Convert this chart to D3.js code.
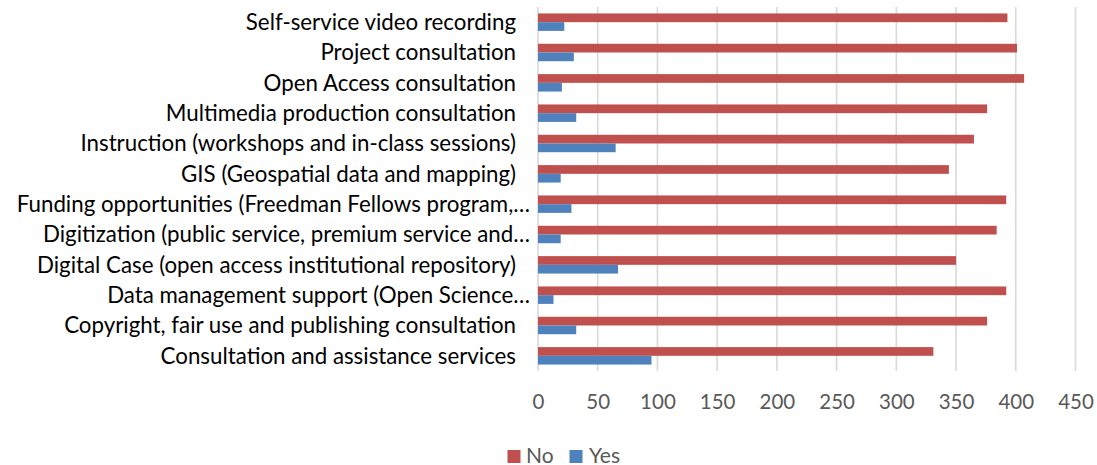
<!DOCTYPE html>
<html>
<head>
<meta charset="utf-8">
<script src="https://cdn.jsdelivr.net/npm/d3@7"></script>
<style>
  html, body { margin: 0; padding: 0; background: #fff; }
  svg { display: block; }
</style>
</head>
<body>
<svg id="chart" width="1097" height="465"></svg>
<script>
const categories = [
  "Self-service video recording",
  "Project consultation",
  "Open Access consultation",
  "Multimedia production consultation",
  "Instruction (workshops and in-class sessions)",
  "GIS (Geospatial data and mapping)",
  "Funding opportunities (Freedman Fellows program,…",
  "Digitization (public service, premium service and…",
  "Digital Case (open access institutional repository)",
  "Data management support (Open Science…",
  "Copyright, fair use and publishing consultation",
  "Consultation and assistance services"
];
const noValues  = [393, 401, 407, 376, 365, 344, 392, 384, 350, 392, 376, 331];
const yesValues = [22, 30, 20, 32, 65, 19, 28, 19, 67, 13, 32, 95];
const seriesNames = ["No", "Yes"];
const seriesColors = ["#C0504D", "#4F81BD"];
const tickValues = [0, 50, 100, 150, 200, 250, 300, 350, 400, 450];

const svg = d3.select("#chart");
const font = "Lato, 'Open Sans', sans-serif";

const x = d3.scaleLinear().domain([0, 450]).range([538, 1075.5]);
const y = d3.scaleBand().domain(categories).range([7, 371])
  .paddingInner(0.425).paddingOuter(0.2125);
const ys = d3.scaleBand().domain(seriesNames).range([0, y.bandwidth()]);

// gridlines
svg.append("g").selectAll("line").data(tickValues).join("line")
  .attr("x1", d => x(d)).attr("x2", d => x(d))
  .attr("y1", 7).attr("y2", 371)
  .attr("stroke", "#D9D9D9").attr("stroke-width", 1.6);

// bars
const rows = categories.map((c, i) => ({c, vals: [noValues[i], yesValues[i]]}));
const g = svg.append("g");
rows.forEach(r => {
  r.vals.forEach((v, j) => {
    g.append("rect")
      .attr("x", x(0))
      .attr("y", y(r.c) + ys(seriesNames[j]))
      .attr("width", x(v) - x(0))
      .attr("height", ys.bandwidth())
      .attr("fill", seriesColors[j]);
  });
});

// category labels
svg.append("g").selectAll("text").data(categories).join("text")
  .attr("x", d => d.endsWith("…") ? 530 : 516)
  .attr("y", d => y(d) + y.bandwidth() / 2)
  .attr("dy", "0.35em")
  .attr("text-anchor", "end")
  .attr("font-family", font)
  .attr("font-size", 22.3)
  .attr("fill", "#000")
  .text(d => d);

// x axis tick labels
const xAxis = d3.axisBottom(x).tickValues(tickValues).tickSize(0).tickPadding(0);
const ax = svg.append("g").attr("transform", "translate(0,394)").call(xAxis);
ax.select(".domain").remove();
ax.selectAll("text")
  .attr("font-family", font).attr("font-size", 20.5).attr("fill", "#595959")
  .attr("dy", "0.71em");

// legend
const legend = svg.append("g");
const legendItems = [{x: 507.5, tx: 526}, {x: 569.5, tx: 589}];
seriesNames.forEach((s, i) => {
  legend.append("rect").attr("x", legendItems[i].x).attr("y", 450)
    .attr("width", 13).attr("height", 13).attr("fill", seriesColors[i]);
  legend.append("text").attr("x", legendItems[i].tx).attr("y", 462.5)
    .attr("font-family", font).attr("font-size", 21).attr("fill", "#595959")
    .text(s);
});
</script>
</body>
</html>
